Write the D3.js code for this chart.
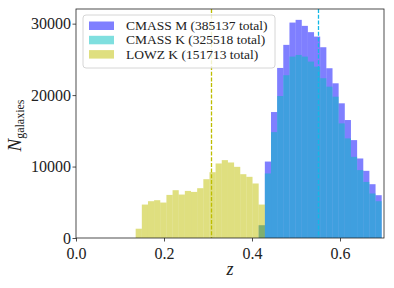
<!DOCTYPE html>
<html>
<head>
<meta charset="utf-8">
<script src="https://cdn.jsdelivr.net/npm/d3@7"></script>
<style>
  body { margin: 0; background: #fff; }
  text { font-family: "Liberation Serif", serif; }
</style>
</head>
<body>
<svg id="chart"></svg>
<script>
// histogram bin edges (z)
const binEdges = [
  0.1356, 0.1496, 0.1636, 0.1775, 0.1915, 0.2055, 0.2195, 0.2335, 0.2474, 0.2614,
  0.2754, 0.2894, 0.3034, 0.3173, 0.3313, 0.3453, 0.3593, 0.3733, 0.3872, 0.4012,
  0.4152, 0.4292, 0.4432, 0.4571, 0.4711, 0.4851, 0.4991, 0.5131, 0.5270, 0.5410,
  0.5550, 0.5690, 0.5830, 0.5969, 0.6109, 0.6249, 0.6389, 0.6529, 0.6668, 0.6808,
  0.6948
];

// counts per bin
const cmassM = [
  0, 0, 0, 0, 0, 0, 0, 0, 0, 0,
  0, 0, 0, 0, 0, 0, 0, 0, 0, 0,
  1780, 10700, 17630, 23800, 27030, 30150, 30530, 29690, 28810, 28190,
  26700, 23760, 21650, 18850, 16510, 13700, 11130, 9400, 7530, 5990
];
const cmassK = [
  0, 0, 0, 0, 0, 0, 0, 0, 0, 0,
  0, 0, 0, 0, 0, 0, 0, 0, 0, 0,
  1780, 9030, 14820, 19870, 22780, 25390, 25620, 25390, 24690, 23980,
  22360, 21180, 19780, 16040, 13940, 11360, 9500, 7850, 6230, 5150
];
const lowzK = [
  1300, 4680, 5150, 5290, 4960, 6030, 6690, 6080, 6590, 6450,
  6970, 8230, 9210, 10430, 10900, 10570, 9960, 8930, 8560, 7630,
  4680, 0, 0, 0, 0, 0, 0, 0, 0, 0,
  0, 0, 0, 0, 0, 0, 0, 0, 0, 0
];

const seriesNames = ["CMASS M (385137 total)", "CMASS K (325518 total)", "LOWZ K (151713 total)"];
const seriesColors = ["#0000ff", "#00bfbf", "#bfbf00"];
const meanZ = [0.549, 0.3075]; // dashed mean lines: CMASS, LOWZ
const meanColors = ["#12b8e6", "#bdbd00"];

const xTicks = [0, 0.2, 0.4, 0.6];
const yTicks = [0, 10000, 20000, 30000];

const width = 394;
const height = 288;
const margin = { top: 9, right: 10, bottom: 50, left: 76 };

const xScale = d3.scaleLinear()
  .domain([0, 0.7])
  .range([margin.left, width - margin.right]);

const yScale = d3.scaleLinear()
  .domain([0, 32050])
  .range([height - margin.bottom, margin.top]);

const svg = d3.select("#chart")
  .attr("width", width)
  .attr("height", height);

// bars, drawn M then K then LOWZ so the alpha blending matches
[cmassM, cmassK, lowzK].forEach((counts, si) => {
  const bins = counts.map((c, i) => ({ x0: binEdges[i], x1: binEdges[i + 1], n: c }))
    .filter(d => d.n > 0);
  svg.append("g")
    .selectAll("rect")
    .data(bins)
    .join("rect")
    .attr("x", d => xScale(d.x0))
    .attr("width", d => xScale(d.x1) - xScale(d.x0))
    .attr("y", d => yScale(d.n))
    .attr("height", d => yScale(0) - yScale(d.n))
    .attr("fill", seriesColors[si])
    .attr("fill-opacity", 0.5);
});

// mean lines
svg.append("g")
  .selectAll("line")
  .data(meanZ)
  .join("line")
  .attr("x1", d => Math.round(xScale(d)) + 0.5)
  .attr("x2", d => Math.round(xScale(d)) + 0.5)
  .attr("y1", yScale.range()[1])
  .attr("y2", yScale.range()[0])
  .attr("stroke", (d, i) => meanColors[i])
  .attr("stroke-width", 1.3)
  .attr("stroke-dasharray", "4,1.7");

/* ***** axes ***** */
const xAxis = d3.axisBottom(xScale)
  .tickValues(xTicks)
  .tickFormat(d3.format(".1f"))
  .tickSize(3.5)
  .tickSizeOuter(0);

const yAxis = d3.axisLeft(yScale)
  .tickValues(yTicks)
  .tickFormat(d3.format("d"))
  .tickSize(3.5)
  .tickSizeOuter(0);

const gx = svg.append("g")
  .attr("transform", `translate(0, ${height - margin.bottom})`)
  .call(xAxis);
const gy = svg.append("g")
  .attr("transform", `translate(${margin.left}, 0)`)
  .call(yAxis);

[gx, gy].forEach(g => {
  g.select(".domain").remove();
  g.selectAll(".tick line").attr("stroke", "#222").attr("stroke-width", 0.8);
  g.selectAll(".tick text")
    .attr("fill", "#222")
    .style("font-family", "'Liberation Serif', serif")
    .style("font-size", "16px");
});
gx.selectAll(".tick text").attr("dy", "0.9em");
gy.selectAll(".tick text").attr("x", -5);

// frame
svg.append("rect")
  .attr("x", margin.left)
  .attr("y", margin.top)
  .attr("width", width - margin.right - margin.left)
  .attr("height", height - margin.bottom - margin.top)
  .attr("fill", "none")
  .attr("stroke", "#222")
  .attr("stroke-width", 0.8);

// axis labels
svg.append("text")
  .attr("x", (margin.left + width - margin.right) / 2)
  .attr("y", 275)
  .attr("text-anchor", "middle")
  .style("font-size", "18px")
  .style("font-style", "italic")
  .attr("fill", "#222")
  .text("z");

const yLabel = svg.append("text")
  .attr("transform", `translate(21, ${(margin.top + height - margin.bottom) / 2 + 2}) rotate(-90)`)
  .attr("text-anchor", "middle")
  .attr("fill", "#222");
yLabel.append("tspan")
  .style("font-size", "19px")
  .style("font-style", "italic")
  .text("N");
yLabel.append("tspan")
  .attr("dy", 3)
  .style("font-size", "12px")
  .text("galaxies");

/* ***** legend ***** */
const legend = svg.append("g").attr("transform", "translate(83, 15)");
legend.append("rect")
  .attr("width", 192)
  .attr("height", 53)
  .attr("rx", 3)
  .attr("fill", "#fff")
  .attr("fill-opacity", 0.8)
  .attr("stroke", "#ccc")
  .attr("stroke-width", 0.8);

const rows = legend.selectAll("g.row")
  .data(seriesNames)
  .join("g")
  .attr("class", "row")
  .attr("transform", (d, i) => `translate(6, ${6.5 + i * 14.3})`);
rows.append("rect")
  .attr("width", 25)
  .attr("height", 8.5)
  .attr("fill", (d, i) => seriesColors[i])
  .attr("fill-opacity", 0.5);
rows.append("text")
  .attr("x", 37)
  .attr("y", 8.5)
  .attr("fill", "#222")
  .style("font-size", "13.5px")
  .text(d => d);
</script>
</body>
</html>
